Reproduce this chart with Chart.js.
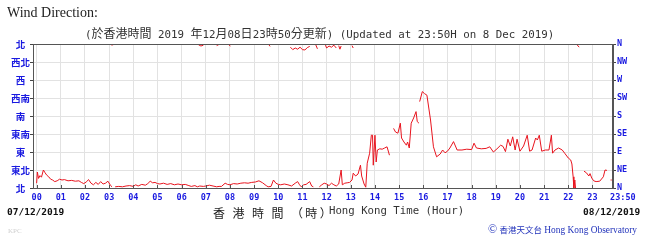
<!DOCTYPE html>
<html>
<head>
<meta charset="utf-8">
<script src="https://cdn.jsdelivr.net/npm/chart.js@4"></script>
<style>
  body { margin: 0; background: #fff; }
  #wrap { position: relative; width: 656px; height: 245px; overflow: hidden; }
  #windChart { position: absolute; left: 0; top: 0; }
  .txt { position: absolute; white-space: pre; line-height: 1; }
  .mono { font-family: "DejaVu Sans Mono", "Liberation Mono", monospace; }
  .cjk { font-family: "Noto Sans CJK TC", sans-serif; font-size: 12px; }
</style>
</head>
<body>
<div id="wrap">
  <canvas id="windChart" width="656" height="245"></canvas>
  <div class="txt" style="left:7px;top:5px;font:14px 'Liberation Serif',serif;color:#222;">Wind Direction:</div>
  <div class="txt mono" style="left:85px;top:27px;font-size:10.8px;color:#333;">(<span class="cjk">於香港時間</span> 2019 <span class="cjk">年</span>12<span class="cjk">月</span>08<span class="cjk">日</span>23<span class="cjk">時</span>50<span class="cjk">分更新</span>) (Updated at 23:50H on 8 Dec 2019)</div>
  <div class="txt mono" style="left:7px;top:207px;font-size:9.5px;font-weight:bold;color:#111;">07/12/2019</div>
  <div class="txt mono" style="left:583px;top:207px;font-size:9.5px;font-weight:bold;color:#111;">08/12/2019</div>
  <div class="txt" style="left:213px;top:204px;font:12px 'Noto Sans CJK TC',sans-serif;letter-spacing:2.4px;color:#222;">香 港 時 間 （時）</div>
  <div class="txt mono" style="left:329px;top:206px;font-size:10.7px;color:#333;">Hong Kong Time (Hour)</div>
  <div class="txt" style="left:488px;top:222px;font:9.4px 'Liberation Serif',serif;color:#2233bb;"><span style="font-size:12px;">©</span> <span style="font-family:'Noto Sans CJK TC';font-size:8.5px;">香港天文台</span> Hong Kong Observatory</div>
  <div class="txt" style="left:8px;top:227px;font:7px 'Liberation Serif',serif;color:#d0d0d0;">KPC</div>
</div>
<script>
// tick labels
var hourTicks = [0, 1, 2, 3, 4, 5, 6, 7, 8, 9, 10, 11, 12, 13, 14, 15, 16, 17, 18, 19, 20, 21, 22, 23, 23.833];
var hourLabels = ["00", "01", "02", "03", "04", "05", "06", "07", "08", "09", "10", "11",
  "12", "13", "14", "15", "16", "17", "18", "19", "20", "21", "22", "23", "    23:50"];
var dirLabelsZh = ["北", "東北", "東", "東南", "南", "西南", "西", "西北", "北"];
var dirLabelsEn = ["N", "NE", "E", "SE", "S", "SW", "W", "NW", "N"];

// main wind direction trace (hour, degrees); null = break in line
var mainHours = [
  0.00, 0.03, 0.08, 0.14, 0.20, 0.28, 0.35, 0.42, 0.50, 0.58, 0.66, 0.75, 0.85, 0.95,
  1.05, 1.15, 1.30, 1.45, 1.60, 1.75, 1.85, 1.95, 2.05, 2.15, 2.25, 2.35, 2.45, 2.55,
  2.65, 2.75, 2.85, 2.95, 3.05, 3.12, 3.15, 3.25, 3.40, 3.55, 3.70, 3.85, 4.00, 4.10,
  4.20, 4.35, 4.50, 4.60, 4.70, 4.80, 4.90, 5.00, 5.10, 5.25, 5.40, 5.55, 5.70, 5.85,
  6.00, 6.15, 6.30, 6.40, 6.55, 6.65, 6.75, 6.90, 7.00, 7.15, 7.30, 7.45, 7.55, 7.65,
  7.80, 7.90, 8.00, 8.15, 8.30, 8.45, 8.60, 8.75, 8.90, 9.05, 9.20, 9.35, 9.50, 9.58,
  9.70, 9.80, 9.90, 10.00, 10.10, 10.25, 10.40, 10.55, 10.70, 10.80, 10.88, 10.95, 11.05,
  11.15, 11.30, 11.38, 11.45, 11.50, 11.70, 11.80, 11.90, 12.00, 12.10, 12.20, 12.30,
  12.40, 12.50, 12.60, 12.65, 12.75, 12.85, 12.95, 13.05, 13.10, 13.20, 13.30, 13.40,
  13.45, 13.55, 13.62, 13.68, 13.78, 13.85, 13.90, 13.93, 14.00, 14.05, 14.10, 14.20,
  14.30, 14.40, 14.50, 14.60, 14.70,
  14.77, 14.85, 14.95, 15.05, 15.10, 15.20, 15.30, 15.35, 15.42, 15.50, 15.60, 15.70,
  15.75, 15.82, 15.84,
  15.85, 15.96, 16.05, 16.15, 16.30, 16.42, 16.55, 16.70, 16.80, 16.90, 17.00, 17.10,
  17.25, 17.40, 17.60, 17.80, 18.00, 18.10, 18.20, 18.40, 18.60, 18.75, 18.90, 19.05,
  19.20, 19.30, 19.40, 19.50, 19.60, 19.70, 19.80, 19.88, 20.00, 20.15, 20.30, 20.40,
  20.50, 20.65, 20.72, 20.80, 20.90, 21.05, 21.20, 21.30, 21.35, 21.45, 21.60, 21.75,
  21.85, 22.00, 22.10, 22.15, 22.20, 22.23, 22.27, 22.30, 22.40,
  22.65, 22.75, 22.85, 22.90, 22.97, 23.05, 23.15, 23.30, 23.45, 23.52, 23.60, 23.65,
  23.75, 23.80
];
var mainDirs = [
  12, 40, 24, 31, 27, 45, 38, 32, 28, 22, 20, 16, 18, 22,
  20, 21, 18, 19, 17, 18, 14, 11, 15, 21, 12, 8, 14, 9,
  16, 10, 12, 17, 7, 3, null, 3, 4, 3, 5, 6, 4, 8,
  5, 9, 7, 11, 17, 13, 14, 11, 10, 12, 9, 11, 8, 10,
  8, 9, 6, 4, 6, 3, 5, 4, 5, 7, 5, 3, 4, 4,
  12, 9, 8, 11, 10, 12, 13, 12, 14, 15, 18, 13, 6, 3,
  4, 20, 12, 9, 8, 10, 8, 5, 12, 16, 8, 3, 8,
  9, 16, 5, 3, null, 3, 8, 12, 10, 6, 12, 8,
  5, 10, 45, 8, 12, 13, 14, 20, 37, 30, 35, 57,
  30, 10, 2, 62, 87, 132, 132, 57, 132, 65, 95, 98,
  97, 100, 103, 82, null,
  149, 140, 137, 162, 125, 115, 107, 115, 100, 162, 175, 191,
  166, 162, null,
  216, 241, 236, 232, 170, 103, 78, 85, 95, 88, 92, 100,
  116, 95, 95, 97, 96, 112, 100, 98, 99, 103, 90, 98,
  107, 104, 91, 122, 105, 128, 95, 122, 92, 105, 132, 92,
  95, 125, 120, 132, 92, 95, 95, 132, 87, 95, 100, 95,
  87, 75, 70, 60, 28, 0, 20, 0, null,
  42, 38, 30, 36, 25, 18, 16, 17, 28, 45, 44, null,
  20, 20
];

// short pieces just below 360 deg (direction wrapping past north)
var northHours = [
  3.10, 3.20, 3.22,
  6.70, 6.80, 6.90, 6.92,
  7.45, 7.55, 7.57,
  7.95, 8.02, 8.04,
  9.60, 9.66, 9.68,
  10.50, 10.60, 10.70, 10.80, 10.90, 11.00, 11.10, 11.20, 11.30, 11.32,
  11.55, 11.62, 11.64,
  11.95, 12.00, 12.10, 12.20, 12.30, 12.40, 12.42,
  12.50, 12.55, 12.60, 12.62,
  13.05, 13.10, 13.12,
  22.35, 22.45
];
var northDirs = [
  357, 359, null,
  358, 355, 357, null,
  356, 359, null,
  358, 355, null,
  359, 354, null,
  352, 346, 350, 347, 352, 346, 345, 351, 354, null,
  358, 348, null,
  357, 350, 355, 352, 357, 350, null,
  356, 347, 355, null,
  356, 350, null,
  359, 352
];

function toPoints(xs, ys) {
  return xs.map(function (x, i) {
    return { x: x, y: ys[i] };
  });
}

var frame = {
  id: "frame",
  afterDraw: function (chart) {
    var a = chart.chartArea;
    var c = chart.ctx;
    c.save();
    c.strokeStyle = "#555";
    c.lineWidth = 1;
    c.strokeRect(Math.round(a.left) + 0.5, Math.round(a.top) + 0.5,
      Math.round(a.right - a.left) - 1, Math.round(a.bottom - a.top));
    // short ticks inside the bottom edge
    var xs = chart.scales.x;
    xs.ticks.forEach(function (t) {
      var px = Math.round(xs.getPixelForValue(t.value)) + 0.5;
      c.beginPath();
      c.moveTo(px, a.bottom);
      c.lineTo(px, a.bottom - 3);
      c.stroke();
    });
    c.restore();
  }
};

var blue = "#1a1ae0";
var tickFont = { family: "'DejaVu Sans Mono', monospace", size: 8.5, weight: "bold" };

new Chart(document.getElementById("windChart").getContext("2d"), {
  type: "line",
  data: {
    datasets: [
      {
        data: toPoints(mainHours, mainDirs),
        borderColor: "#e8141e",
        borderWidth: 1,
        pointRadius: 0,
        tension: 0,
        spanGaps: false
      },
      {
        data: toPoints(northHours, northDirs),
        borderColor: "#e8141e",
        borderWidth: 1,
        pointRadius: 0,
        tension: 0,
        spanGaps: false
      }
    ]
  },
  options: {
    responsive: false,
    animation: false,
    devicePixelRatio: 1,
    layout: { padding: { top: 44, left: 0, right: 0, bottom: 43 } },
    plugins: { legend: { display: false }, tooltip: { enabled: false } },
    scales: {
      x: {
        type: "linear",
        min: -0.15,
        max: 23.85,
        afterBuildTicks: function (axis) {
          axis.ticks = hourTicks.map(function (v) { return { value: v }; });
        },
        afterFit: function (axis) { axis.height = 14; },
        grid: { color: "#e2e2e2", drawTicks: false },
        border: { display: true, color: "#555" },
        ticks: {
          autoSkip: false,
          maxRotation: 0,
          padding: 5,
          color: blue,
          font: tickFont,
          callback: function (v, i) { return hourLabels[i]; }
        }
      },
      y: {
        position: "left",
        min: 0,
        max: 360,
        afterFit: function (axis) { axis.width = 33; },
        grid: { color: "#e2e2e2", tickColor: "#444", tickLength: 3 },
        border: { display: true, color: "#555" },
        ticks: {
          stepSize: 45,
          padding: 0,
          crossAlign: "center",
          color: blue,
          font: { family: "'Noto Sans CJK TC', sans-serif", size: 9.5, weight: "bold" },
          callback: function (v) { return dirLabelsZh[v / 45]; }
        }
      },
      y2: {
        position: "right",
        min: 0,
        max: 360,
        afterFit: function (axis) { axis.width = 43; },
        grid: { drawOnChartArea: false, tickColor: "#444", tickLength: 3 },
        border: { display: true, color: "#555" },
        ticks: {
          stepSize: 45,
          padding: 1,
          color: blue,
          font: tickFont,
          callback: function (v) { return dirLabelsEn[v / 45]; }
        }
      }
    }
  },
  plugins: [frame]
});
</script>
</body>
</html>
